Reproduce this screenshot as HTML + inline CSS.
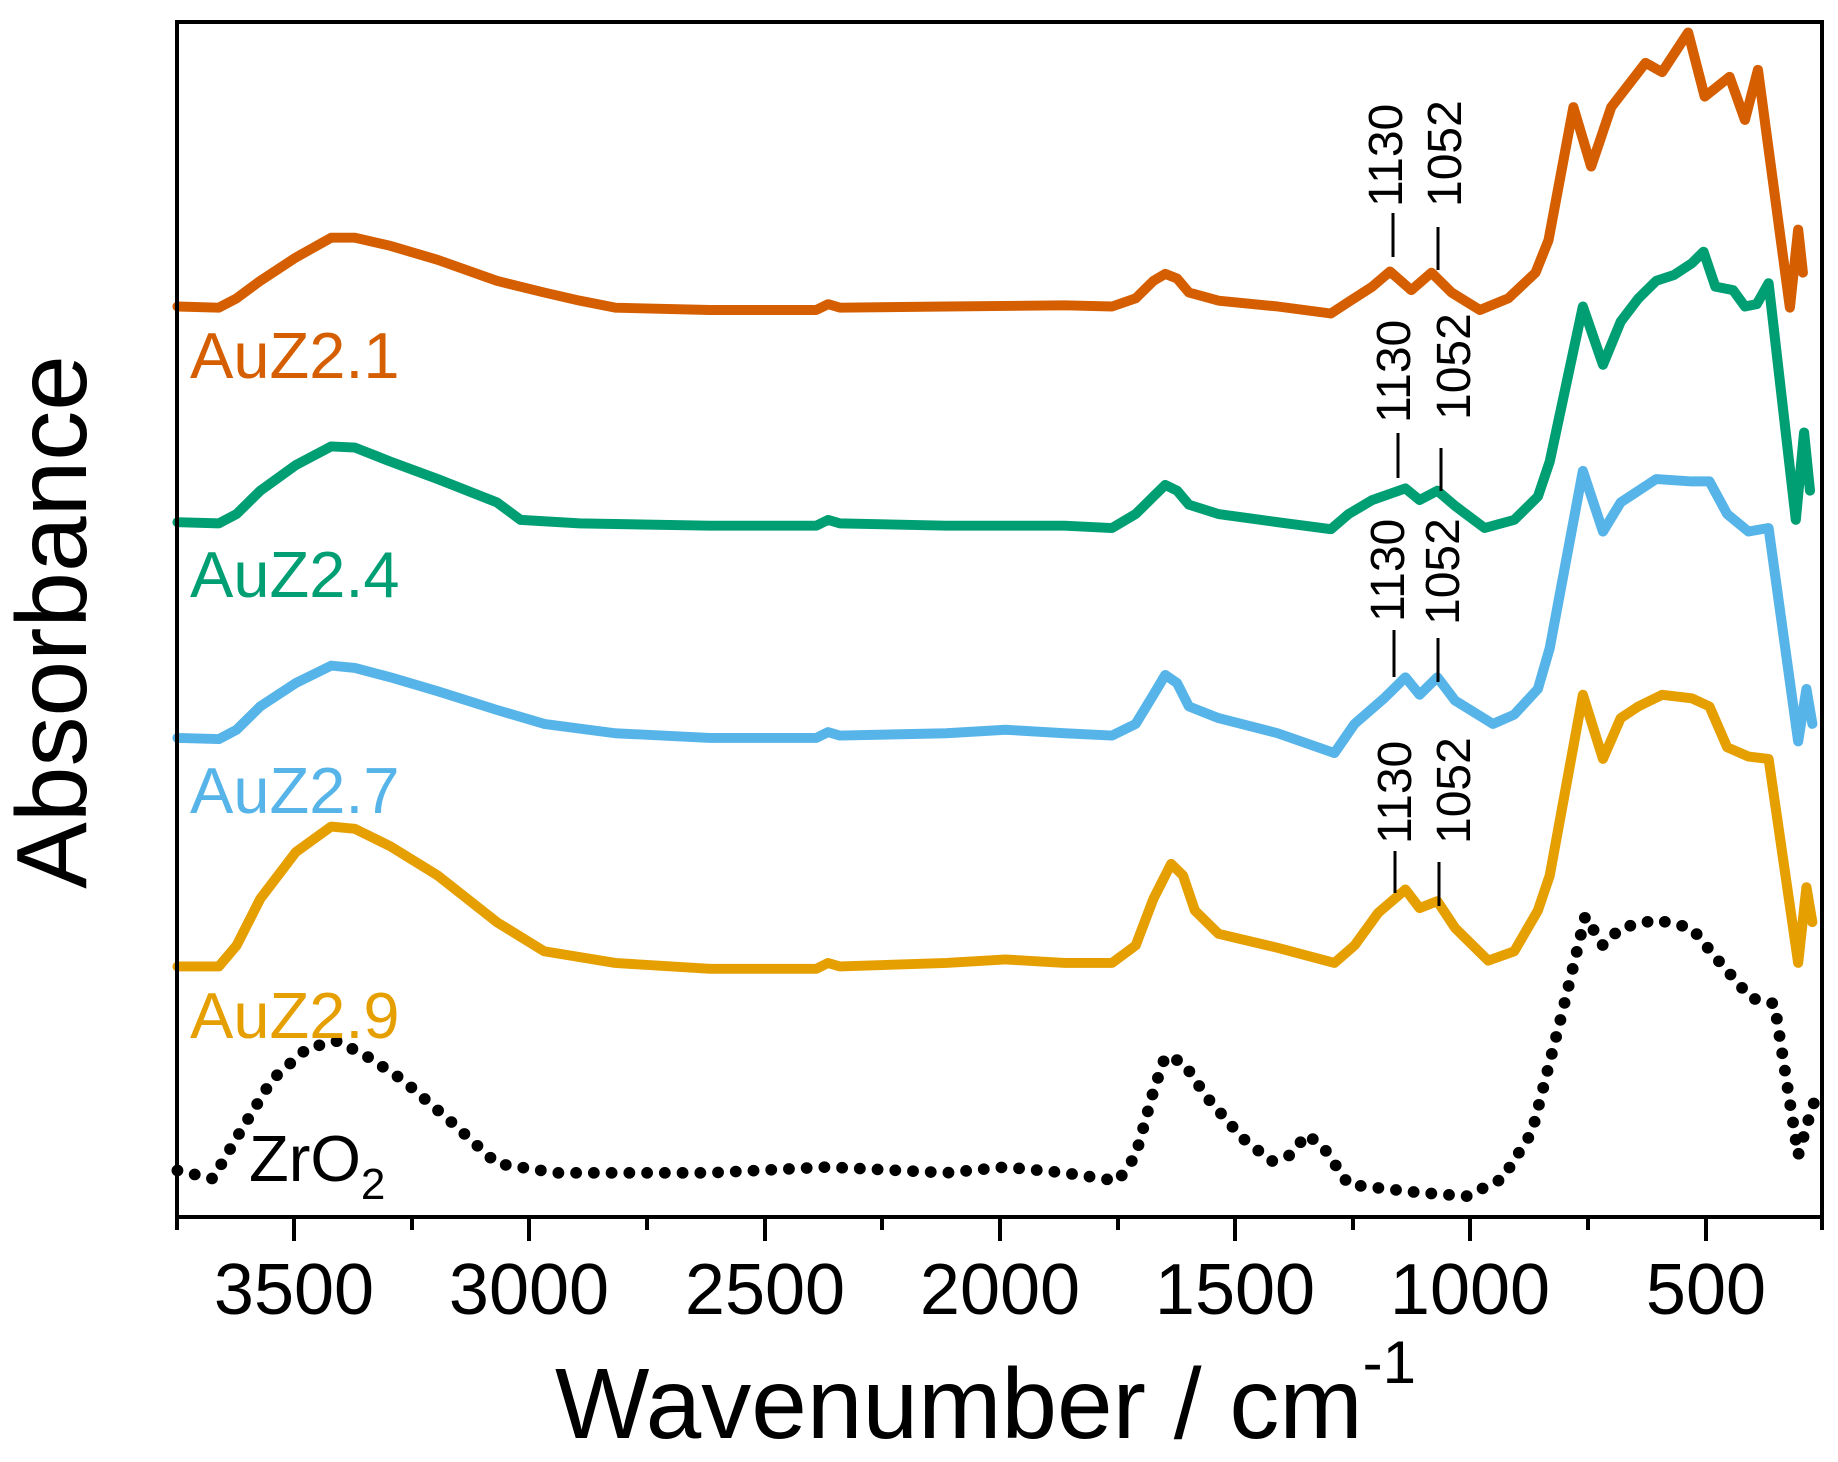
<!DOCTYPE html>
<html><head><meta charset="utf-8"><style>
html,body{margin:0;padding:0;background:#fff;}
svg{display:block;}
text{font-family:"Liberation Sans",Arial,sans-serif;}
</style></head><body>
<svg width="1838" height="1462" viewBox="0 0 1838 1462" xmlns="http://www.w3.org/2000/svg">
<rect width="1838" height="1462" fill="#fff"/>
<g transform="translate(0,1) scale(1.183,1.166)" fill="none" stroke-linejoin="round" stroke-linecap="round" stroke-width="8.5">
<polyline stroke="#D55E00" points="150,262 185,263 200,255 220,240 250,220 280,203 300,203 330,210 370,222 420,240 460,250 490,257 520,263 600,265 690,265 700,260 710,263 800,262 900,261 940,262 960,255 975,240 985,234 995,238 1005,250 1030,257 1080,262 1125,268 1140,258 1160,245 1175,232 1193,248 1210,233 1227,250 1251,265 1275,255 1298,233 1309,205 1330,91 1345,142 1362,91 1391,53 1405,61 1427,27 1441,82 1462,65 1475,102 1486,59 1513,263 1520,196 1524,233"/>
<polyline stroke="#009E73" points="150,447 185,448 200,440 220,420 250,398 280,382 300,383 330,395 370,410 420,430 440,445 490,448 600,450 690,450 700,445 710,448 800,450 900,450 940,452 960,440 975,425 985,415 995,420 1005,432 1030,440 1080,447 1125,453 1140,440 1160,428 1188,418 1200,428 1215,420 1230,433 1255,452 1280,445 1300,425 1310,395 1338,262 1355,312 1370,275 1385,255 1400,240 1415,235 1430,225 1440,215 1450,245 1465,248 1475,262 1485,260 1495,242 1518,445 1525,370 1530,420"/>
<polyline stroke="#56B4E9" points="150,632 185,633 200,625 220,605 250,585 280,570 300,572 330,580 370,592 420,608 460,620 520,628 600,632 690,632 700,627 710,630 800,628 850,625 900,628 940,630 960,620 975,595 985,578 995,585 1005,605 1030,615 1080,628 1128,645 1145,620 1170,598 1188,580 1200,595 1215,580 1230,600 1262,620 1280,612 1300,590 1310,555 1338,403 1355,455 1370,430 1385,420 1400,410 1430,412 1445,412 1460,440 1478,455 1495,452 1520,635 1527,590 1532,620"/>
<polyline stroke="#E69F00" points="150,828 185,828 200,810 220,770 250,730 280,708 300,710 330,725 370,750 420,790 460,815 520,825 600,830 690,830 700,825 710,828 800,825 850,822 900,825 940,825 960,810 975,770 990,740 1000,750 1010,780 1030,800 1080,812 1128,825 1145,810 1165,782 1188,762 1200,778 1215,772 1230,795 1258,823 1280,815 1300,780 1310,750 1338,595 1355,650 1370,615 1385,605 1405,595 1430,598 1445,605 1460,640 1478,648 1495,650 1520,825 1527,760 1532,790"/>
<polyline stroke="#000" stroke-width="10" stroke-dasharray="0 15" points="150,1003 180,1010 200,975 230,925 260,898 285,892 310,905 340,925 380,960 420,997 470,1005 600,1005 700,1000 800,1005 850,1000 900,1005 945,1012 960,990 975,935 985,905 1000,910 1020,940 1050,975 1075,995 1090,990 1105,972 1120,985 1140,1015 1200,1022 1240,1025 1270,1010 1295,970 1320,870 1340,785 1355,810 1370,795 1400,788 1430,795 1450,820 1480,855 1500,860 1520,990 1530,955 1535,940"/>
</g>
<g stroke="#000" stroke-width="3">
<line x1="1393" y1="213" x2="1393" y2="257"/><line x1="1438" y1="227" x2="1438" y2="270"/>
<line x1="1398" y1="433" x2="1398" y2="478"/><line x1="1441" y1="448" x2="1441" y2="491"/>
<line x1="1394" y1="630" x2="1394" y2="677"/><line x1="1438" y1="638" x2="1438" y2="682"/>
<line x1="1395" y1="851" x2="1395" y2="893"/><line x1="1439" y1="862" x2="1439" y2="906"/>
</g>
<g font-size="48" fill="#000">
<text transform="translate(1402,207) rotate(-90)">1130</text>
<text transform="translate(1461,207) rotate(-90)">1052</text>
<text transform="translate(1410,423) rotate(-90)">1130</text>
<text transform="translate(1470,420) rotate(-90)">1052</text>
<text transform="translate(1404,622) rotate(-90)">1130</text>
<text transform="translate(1459,625) rotate(-90)">1052</text>
<text transform="translate(1411,844) rotate(-90)">1130</text>
<text transform="translate(1470,844) rotate(-90)">1052</text>
</g>
<g font-size="65">
<text x="190" y="378" fill="#D55E00">AuZ2.1</text>
<text x="190" y="597" fill="#009E73">AuZ2.4</text>
<text x="190" y="813" fill="#56B4E9">AuZ2.7</text>
<text x="190" y="1038" fill="#E69F00">AuZ2.9</text>
<text x="249" y="1181" fill="#000">ZrO<tspan font-size="44" dy="18">2</tspan></text>
</g>
<rect x="177" y="22" width="1645" height="1195" fill="none" stroke="#000" stroke-width="4"/>
<g stroke="#000" stroke-width="4">
<line x1="177" y1="1217" x2="177" y2="1230"/>
<line x1="294" y1="1217" x2="294" y2="1241"/>
<line x1="412" y1="1217" x2="412" y2="1230"/>
<line x1="529" y1="1217" x2="529" y2="1241"/>
<line x1="647" y1="1217" x2="647" y2="1230"/>
<line x1="765" y1="1217" x2="765" y2="1241"/>
<line x1="882" y1="1217" x2="882" y2="1230"/>
<line x1="1000" y1="1217" x2="1000" y2="1241"/>
<line x1="1118" y1="1217" x2="1118" y2="1230"/>
<line x1="1235" y1="1217" x2="1235" y2="1241"/>
<line x1="1353" y1="1217" x2="1353" y2="1230"/>
<line x1="1470" y1="1217" x2="1470" y2="1241"/>
<line x1="1588" y1="1217" x2="1588" y2="1230"/>
<line x1="1706" y1="1217" x2="1706" y2="1241"/>
<line x1="1822" y1="1217" x2="1822" y2="1230"/>
</g>
<g font-size="72" text-anchor="middle" fill="#000">
<text x="294" y="1314">3500</text>
<text x="529" y="1314">3000</text>
<text x="765" y="1314">2500</text>
<text x="1000" y="1314">2000</text>
<text x="1235" y="1314">1500</text>
<text x="1470" y="1314">1000</text>
<text x="1706" y="1314">500</text>
</g>
<text x="555" y="1438" font-size="100" fill="#000">Wavenumber / cm<tspan font-size="60" dy="-55">-1</tspan></text>
<text transform="translate(86,622) rotate(-90)" font-size="100" text-anchor="middle" fill="#000">Absorbance</text>
</svg>
</body></html>
